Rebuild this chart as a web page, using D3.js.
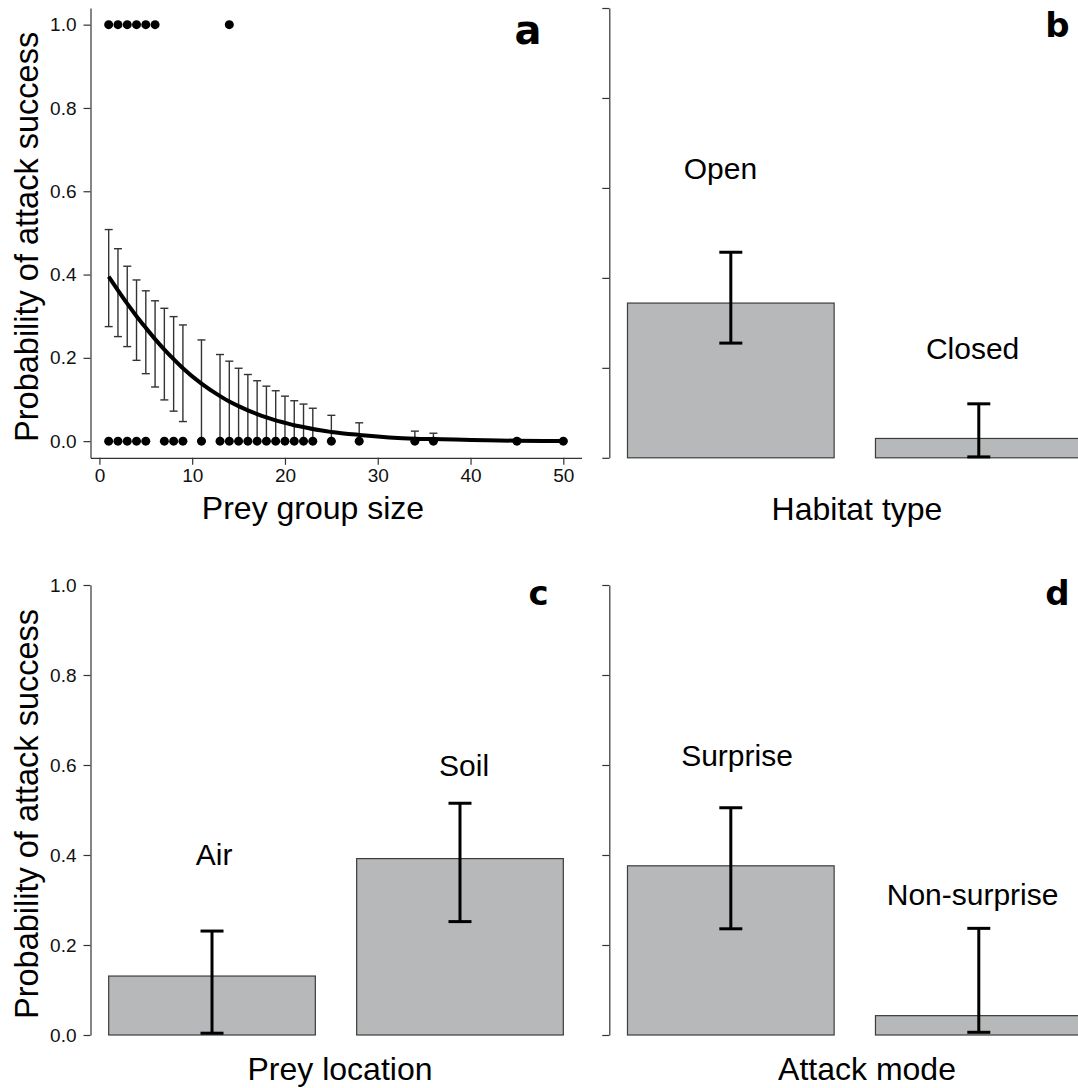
<!DOCTYPE html>
<html>
<head>
<meta charset="utf-8">
<script src="https://cdn.jsdelivr.net/npm/d3@7"></script>
<style>
  body { margin: 0; background: #fff; }
  svg { display: block; font-family: "Liberation Sans", Arial, sans-serif; }
</style>
</head>
<body>
<svg id="chart" width="1078" height="1088"></svg>
<script>
// panel a: prey group size (fitted curve + CI at observed sizes)
const GROUP_SIZES = [1, 2, 3, 4, 5, 6, 7, 8, 9, 11, 13, 14, 15, 16, 17, 18, 19, 20, 21, 22, 23, 25, 28, 34, 36, 45, 50]
const FIT = [0.395, 0.362, 0.330, 0.300, 0.272, 0.245, 0.220, 0.197, 0.175, 0.138, 0.108, 0.095, 0.084, 0.074, 0.065, 0.057, 0.050, 0.044, 0.038, 0.034, 0.029, 0.022, 0.015, 0.006, 0.005, 0.001, 0.0005]
const CI_HIGH = [0.508, 0.462, 0.420, 0.387, 0.361, 0.337, 0.319, 0.299, 0.279, 0.243, 0.208, 0.192, 0.175, 0.160, 0.145, 0.132, 0.121, 0.108, 0.097, 0.089, 0.079, 0.062, 0.044, 0.024, 0.019, 0.005, 0.003]
const CI_LOW = [0.275, 0.251, 0.227, 0.194, 0.162, 0.130, 0.099, 0.072, 0.047, 0.002, 0.002, 0.001, 0.001, 0.001, 0.001, 0.001, 0.001, 0.001, 0.001, 0.001, 0.001, 0.001, 0.001, 0.0, 0.0, 0.0, 0.0]
const SUCCESS_SIZES = [1, 2, 3, 4, 5, 6, 14]
const FAIL_SIZES = [1, 2, 3, 4, 5, 7, 8, 9, 11, 13, 14, 15, 16, 17, 18, 19, 20, 21, 22, 23, 25, 28, 34, 36, 45, 50]
const X_TICKS = [0, 10, 20, 30, 40, 50]
const Y_TICKS = [0, 0.2, 0.4, 0.6, 0.8, 1.0]

// panels b-d: bar estimates with CI
const HABITAT = ["Open", "Closed"]
const HABITAT_P = [0.344, 0.043]
const HABITAT_LO = [0.255, 0.002]
const HABITAT_HI = [0.457, 0.120]
const HABITAT_LABEL_AT = [[0.65, 0.62], [1.87, 0.22]]

const LOCATION = ["Air", "Soil"]
const LOCATION_P = [0.131, 0.392]
const LOCATION_LO = [0.004, 0.252]
const LOCATION_HI = [0.231, 0.515]
const LOCATION_LABEL_AT = [[0.71, 0.378], [1.92, 0.576]]

const MODE = ["Surprise", "Non-surprise"]
const MODE_P = [0.376, 0.043]
const MODE_LO = [0.236, 0.006]
const MODE_HI = [0.505, 0.237]
const MODE_LABEL_AT = [[0.73, 0.598], [1.87, 0.288]]

// layout (R-style plot regions)
const LEFT_COL = [90.5, 581.5]
const RIGHT_COL = [609.3, 1100.3]
const TOP_ROW = [457.8, 8]
const BOTTOM_ROW = [1035, 585]
const BAR_FILL = "#b6b8b9"
const AXIS_COLOR = "#333"

const svg = d3.select("#chart");

function styleAxis(g, fontSize) {
  g.selectAll("path").attr("stroke", AXIS_COLOR).attr("stroke-width", 1.2);
  g.selectAll("line").attr("stroke", AXIS_COLOR).attr("stroke-width", 1.2);
  g.selectAll("text").attr("font-size", fontSize).attr("fill", "#111")
    .attr("font-family", "'Liberation Sans', Arial, sans-serif");
}

function yTitle(row) {
  svg.append("text")
    .attr("transform", `translate(38, ${(row[0] + row[1]) / 2 + 4}) rotate(-90)`)
    .attr("text-anchor", "middle")
    .attr("font-size", 32.5)
    .text("Probability of attack success");
}

function panelLetter(letter, x, y, size) {
  svg.append("text")
    .attr("x", x).attr("y", y)
    .attr("text-anchor", "middle")
    .attr("font-family", "'DejaVu Sans', sans-serif")
    .attr("font-weight", "bold")
    .attr("font-size", size)
    .text(letter);
}

// ---------- panel a ----------
const xA = d3.scaleLinear().domain([-0.96, 51.96]).range(LEFT_COL);
const yA = d3.scaleLinear().domain([-0.04, 1.04]).range(TOP_ROW);

const gA = svg.append("g");
gA.append("g").attr("transform", `translate(${LEFT_COL[0]}, 0)`)
  .call(d3.axisLeft(yA).tickValues(Y_TICKS).tickFormat(d3.format(".1f")).tickSize(7).tickSizeOuter(0).tickPadding(7))
  .call(g => styleAxis(g, 19));
gA.append("g").attr("transform", `translate(0, ${TOP_ROW[0]})`)
  .call(d3.axisBottom(xA).tickValues(X_TICKS).tickSize(7).tickSizeOuter(0).tickPadding(4))
  .call(g => styleAxis(g, 19));

// error bars
const aRows = GROUP_SIZES.map((s, i) => ({ s, fit: FIT[i], lo: CI_LOW[i], hi: CI_HIGH[i] }));
const eb = gA.append("g").attr("stroke", "#333").attr("stroke-width", 1.4).attr("fill", "none");
eb.selectAll("line.v").data(aRows).join("line").attr("class", "v")
  .attr("x1", d => xA(d.s)).attr("x2", d => xA(d.s))
  .attr("y1", d => yA(d.lo)).attr("y2", d => yA(d.hi));
eb.selectAll("line.hi").data(aRows).join("line").attr("class", "hi")
  .attr("x1", d => xA(d.s) - 4).attr("x2", d => xA(d.s) + 4)
  .attr("y1", d => yA(d.hi)).attr("y2", d => yA(d.hi));
eb.selectAll("line.lo").data(aRows).join("line").attr("class", "lo")
  .attr("x1", d => xA(d.s) - 4).attr("x2", d => xA(d.s) + 4)
  .attr("y1", d => yA(d.lo)).attr("y2", d => yA(d.lo));

// fitted curve
gA.append("path").datum(aRows)
  .attr("fill", "none").attr("stroke", "#000").attr("stroke-width", 4)
  .attr("stroke-linejoin", "round")
  .attr("d", d3.line().x(d => xA(d.s)).y(d => yA(d.fit)).curve(d3.curveMonotoneX));

// observed outcomes
gA.selectAll("circle.succ").data(SUCCESS_SIZES).join("circle").attr("class", "succ")
  .attr("cx", d => xA(d)).attr("cy", yA(1)).attr("r", 4.5).attr("fill", "#000");
gA.selectAll("circle.fail").data(FAIL_SIZES).join("circle").attr("class", "fail")
  .attr("cx", d => xA(d)).attr("cy", yA(0)).attr("r", 4.5).attr("fill", "#000");

gA.append("text").attr("x", 313).attr("y", 519)
  .attr("text-anchor", "middle").attr("font-size", 32).text("Prey group size");
yTitle(TOP_ROW);
panelLetter("a", 528, 44, 40);

// ---------- bar panels ----------
function barPanel(col, row, cats, vals, lo, hi, labelAt, showLabels, title, titleX, titleY, letter, letterY) {
  const x = d3.scaleLinear().domain([0.112, 2.488]).range(col);
  const y = d3.scaleLinear().domain([0, 1]).range(row);
  const g = svg.append("g");
  const rows = cats.map((c, i) => ({ c, v: vals[i], lo: lo[i], hi: hi[i], left: 0.2 + 1.2 * i }));

  g.selectAll("rect").data(rows).join("rect")
    .attr("x", d => x(d.left)).attr("width", d => x(d.left + 1) - x(d.left))
    .attr("y", d => y(d.v)).attr("height", d => y(0) - y(d.v))
    .attr("fill", BAR_FILL).attr("stroke", "#3c3c3c").attr("stroke-width", 1.2);

  const e = g.append("g").attr("stroke", "#000").attr("stroke-width", 3);
  e.selectAll("line.v").data(rows).join("line").attr("class", "v")
    .attr("x1", d => x(d.left + 0.5)).attr("x2", d => x(d.left + 0.5))
    .attr("y1", d => y(d.lo)).attr("y2", d => y(d.hi));
  e.selectAll("line.hi").data(rows).join("line").attr("class", "hi")
    .attr("x1", d => x(d.left + 0.5) - 11.5).attr("x2", d => x(d.left + 0.5) + 11.5)
    .attr("y1", d => y(d.hi)).attr("y2", d => y(d.hi));
  e.selectAll("line.lo").data(rows).join("line").attr("class", "lo")
    .attr("x1", d => x(d.left + 0.5) - 11.5).attr("x2", d => x(d.left + 0.5) + 11.5)
    .attr("y1", d => y(d.lo)).attr("y2", d => y(d.lo));

  g.selectAll("text.cat").data(rows).join("text").attr("class", "cat")
    .attr("x", (d, i) => x(labelAt[i][0])).attr("y", (d, i) => y(labelAt[i][1]))
    .attr("text-anchor", "middle").attr("font-size", 30).text(d => d.c);

  const ax = d3.axisLeft(y).tickValues(Y_TICKS).tickSize(7).tickSizeOuter(0).tickPadding(7)
    .tickFormat(showLabels ? d3.format(".1f") : () => "");
  g.append("g").attr("transform", `translate(${col[0]}, 0)`).call(ax).call(a => styleAxis(a, 19));

  g.append("text").attr("x", titleX).attr("y", titleY)
    .attr("text-anchor", "middle").attr("font-size", 32).text(title);
  panelLetter(letter, col[0] + 448, letterY, 34);
}

barPanel(RIGHT_COL, TOP_ROW, HABITAT, HABITAT_P, HABITAT_LO, HABITAT_HI, HABITAT_LABEL_AT, false,
  "Habitat type", 857, 520, "b", 37);
barPanel(LEFT_COL, BOTTOM_ROW, LOCATION, LOCATION_P, LOCATION_LO, LOCATION_HI, LOCATION_LABEL_AT, true,
  "Prey location", 340, 1080, "c", 605);
barPanel(RIGHT_COL, BOTTOM_ROW, MODE, MODE_P, MODE_LO, MODE_HI, MODE_LABEL_AT, false,
  "Attack mode", 867, 1080, "d", 605);
yTitle(BOTTOM_ROW);
</script>
</body>
</html>
